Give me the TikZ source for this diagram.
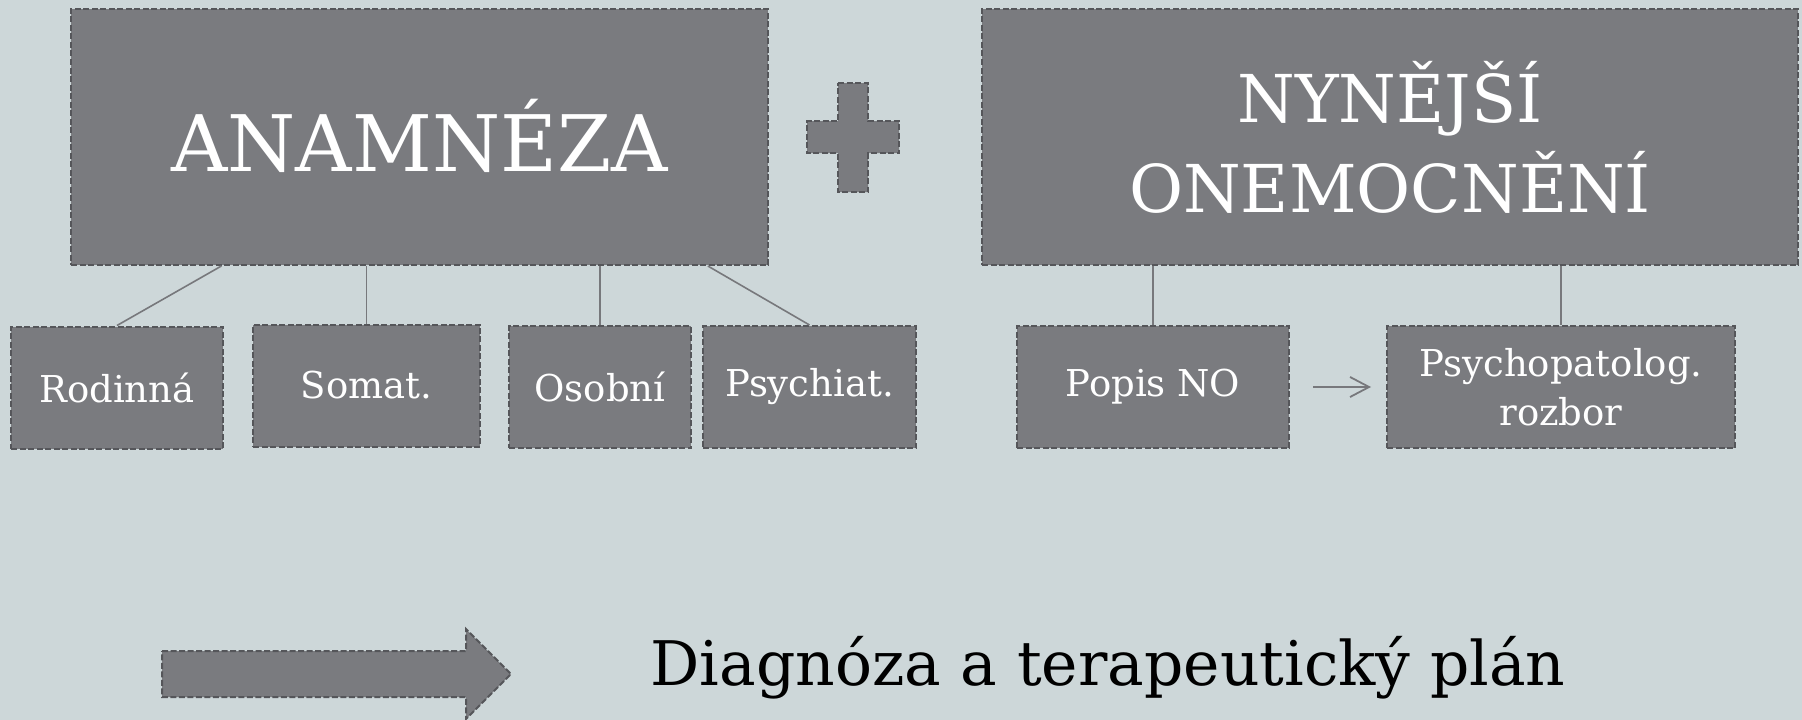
\documentclass[tikz,border=0pt]{standalone}
\usepackage{fontspec}
\setmainfont{DejaVu Serif}
\usetikzlibrary{calc,arrows.meta}
\definecolor{bgcol}{HTML}{CDD7D9}
\definecolor{boxcol}{HTML}{7A7B7F}
\definecolor{bordcol}{HTML}{55565A}
\definecolor{linecol}{HTML}{77787C}
\tikzset{
  dashbox/.style={draw=bordcol, fill=boxcol, dash pattern=on 6pt off 2.5pt, line width=2pt, text=white, inner sep=0pt, align=center},
  bigbox/.style={dashbox, minimum width=#1, minimum height=256pt},
  smallbox/.style={dashbox, minimum width=#1, minimum height=122pt, font=\fontsize{37}{49}\selectfont},
  conn/.style={draw=linecol, line width=1.6pt},
}
\begin{document}
\begin{tikzpicture}[x=1pt,y=-1pt]
\fill[bgcol] (0,0) rectangle (1802,720);
\useasboundingbox (0,0) rectangle (1802,720);
% top boxes
\node[bigbox=697pt, font=\fontsize{78}{90}\selectfont] (anam) at (419.5,137) {\raisebox{4pt}{ANAMNÉZA}};
\node[bigbox=816pt, font=\fontsize{66}{90}\selectfont] (nyn) at (1390,137) {NYNĚJŠÍ\\ONEMOCNĚNÍ};
% plus sign
\draw[draw=bordcol, fill=boxcol, dash pattern=on 6pt off 2.5pt, line width=2pt]
  (838,83) -- (868,83) -- (868,121) -- (899,121) -- (899,153) -- (868,153) -- (868,192)
  -- (838,192) -- (838,153) -- (807,153) -- (807,121) -- (838,121) -- cycle;
% small boxes
\node[smallbox=212pt] (rod) at (117,387.5) {Rodinná};
\node[smallbox=227pt] (som) at (366.5,385.5) {Somat.};
\node[smallbox=182pt] (oso) at (600,387) {Osobní};
\node[smallbox=213pt] (psy) at (809.5,387) {Psychiat.};
\node[smallbox=272pt] (pop) at (1153,387) {Popis NO};
\node[smallbox=348pt] (pat) at (1561,387) {Psychopatolog.\\rozbor};
% connectors
\draw[conn] (rod.north) -- ($(anam.south west)!0.2166!(anam.south east)$);
\draw[conn] (som.north) -- (som.north |- anam.south);
\draw[conn] (oso.north) -- (oso.north |- anam.south);
\draw[conn] (psy.north) -- ($(anam.south west)!0.9125!(anam.south east)$);
\draw[conn] (pop.north) -- (pop.north |- nyn.south);
\draw[conn] (pat.north) -- (pat.north |- nyn.south);
\draw[conn, line width=1.8pt, -{Straight Barb[length=19pt,width=20pt,line width=1.8pt]}, shorten <=23pt, shorten >=15pt] (pop.east) -- (pat.west);
% big arrow
\draw[draw=bordcol, fill=boxcol, dash pattern=on 6pt off 2.5pt, line width=2pt]
  (162,651) -- (466,651) -- (466,629) -- (511,674) -- (466,719) -- (466,697) -- (162,697) -- cycle;
\node[anchor=base, font=\fontsize{61.5}{70}\selectfont, text=black] (diag) at (1108,685) {Diagnóza a terapeutický plán};
\end{tikzpicture}
\end{document}
